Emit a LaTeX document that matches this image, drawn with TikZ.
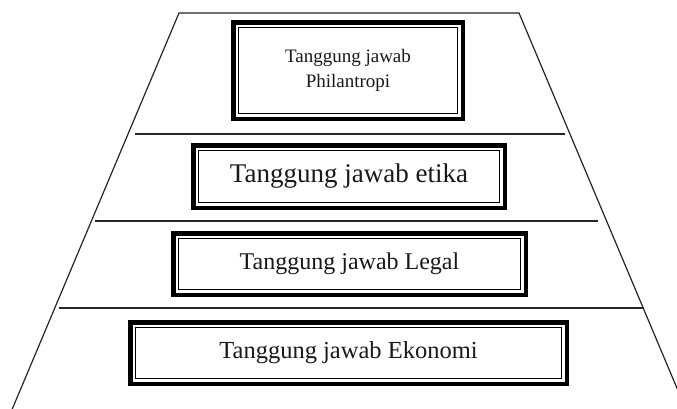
\documentclass[tikz,border=0pt]{standalone}
\usepackage{fontspec}
\setmainfont{Liberation Serif}
\usetikzlibrary{calc}
\begin{document}
\begin{tikzpicture}[x=1pt,y=-1pt,
  tbox/.style={draw=black, line width=4.5pt, fill=white, inner sep=0pt, outer sep=0pt, align=center, text=black!90},
  thinline/.style={draw=black, line width=1.2pt},
  divline/.style={draw=black!85, line width=1.2pt}]
\useasboundingbox[fill=white] (0,0) rectangle (677,408);
% trapezoid
\coordinate (tl) at (179,13);
\coordinate (tr) at (519,13);
\coordinate (bl) at (11,412);
\coordinate (br) at (687,412);
\draw[divline] (bl) -- (tl) -- (tr) -- (br);
% dividers
\coordinate (d1l) at (135,134); \coordinate (d1r) at (565,134);
\coordinate (d2l) at (95,221);  \coordinate (d2r) at (598,221);
\coordinate (d3l) at (59,308);  \coordinate (d3r) at (644,308);
\draw[divline] (d1l) -- (d1r);
\draw[divline] (d2l) -- (d2r);
\draw[divline] (d3l) -- (d3r);
% boxes
\node[tbox, minimum width=229.5, minimum height=96.5, font=\fontsize{19}{25}\selectfont] (p) at (348,70.5) {Tanggung jawab\\Philantropi};
\node[tbox, minimum width=311.5, minimum height=62.5, font=\fontsize{27}{30}\selectfont] (e) at (349,176.5) {Tanggung jawab etika};
\node[tbox, minimum width=352.5, minimum height=61.5, font=\fontsize{24}{27}\selectfont] (l) at (349.5,264) {Tanggung jawab Legal};
\node[tbox, minimum width=436.5, minimum height=61.5, font=\fontsize{24.5}{27}\selectfont] (k) at (348.5,353) {Tanggung jawab Ekonomi};
% inner thin frames
\draw[thinline] ($(p.north west)+(5,5)$) rectangle ($(p.south east)+(-5,-5)$);
\draw[thinline] ($(e.north west)+(5,5)$) rectangle ($(e.south east)+(-5,-5)$);
\draw[thinline] ($(l.north west)+(5,5)$) rectangle ($(l.south east)+(-5,-5)$);
\draw[thinline] ($(k.north west)+(5,5)$) rectangle ($(k.south east)+(-5,-5)$);
\end{tikzpicture}
\end{document}
